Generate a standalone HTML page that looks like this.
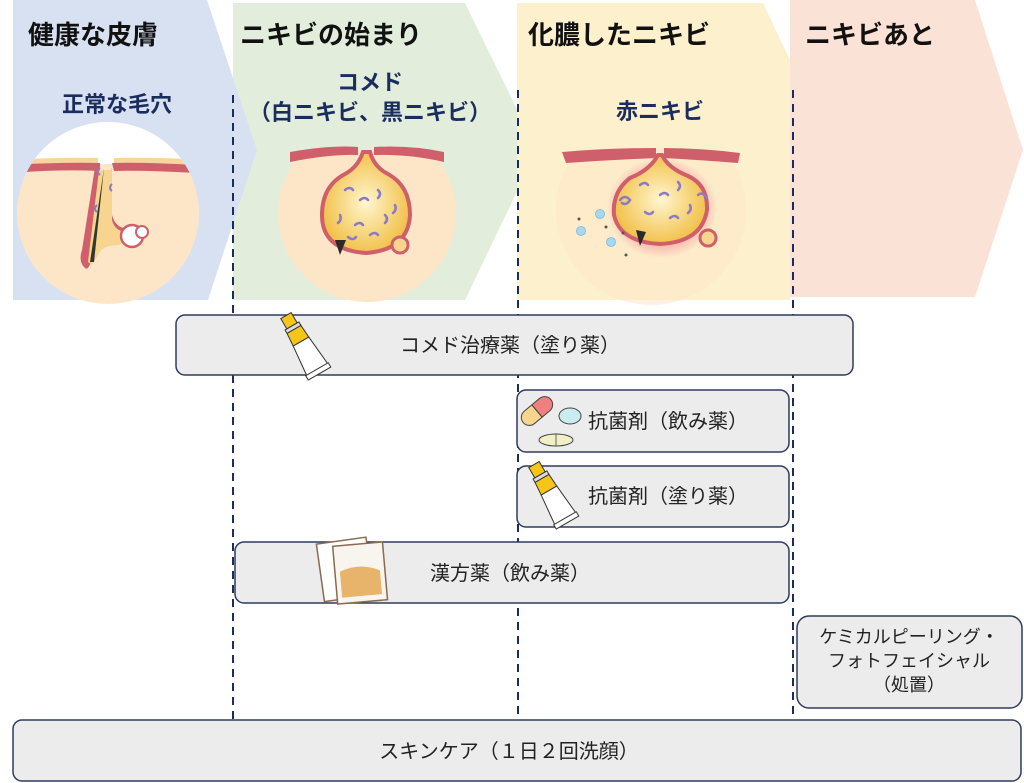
<!DOCTYPE html>
<html><head><meta charset="utf-8"><style>
html,body{margin:0;padding:0;background:#fff;}
svg{display:block;font-family:"Liberation Sans","Noto Sans CJK JP",sans-serif;}
</style></head><body>
<svg width="1024" height="783" viewBox="0 0 1024 783" xmlns="http://www.w3.org/2000/svg">
<defs>
<g id="tube">
  <rect x="-6" y="-34" width="12" height="12" fill="#f5c518" stroke="#333" stroke-width="1"/>
  <rect x="-8" y="-22" width="16" height="4" fill="#ddd" stroke="#333" stroke-width="1"/>
  <path d="M-8,-18 L8,-18 L9,-4 L-9,-4 Z" fill="#f5c518" stroke="#333" stroke-width="1"/>
  <path d="M-9,-4 L9,-4 L12,28 L-12,28 Z" fill="#fff" stroke="#333" stroke-width="1"/>
  <rect x="-13" y="28" width="26" height="5" fill="#fff" stroke="#333" stroke-width="1"/>
</g>
<radialGradient id="sebum" cx="0.5" cy="0.5" r="0.5"><stop offset="0" stop-color="#fff6d0"/><stop offset="1" stop-color="#f2c24c"/></radialGradient>
<radialGradient id="glow" cx="0.5" cy="0.5" r="0.5"><stop offset="0.6" stop-color="#f06a8a" stop-opacity="0.6"/><stop offset="1" stop-color="#f06a8a" stop-opacity="0"/></radialGradient>
<clipPath id="c1"><circle cx="108" cy="213" r="91"/></clipPath>
<clipPath id="below150"><rect x="0" y="150" width="1024" height="200"/></clipPath>
</defs>

<!-- chevrons -->
<polygon points="233,3 465,3 537,150 465,300 233,300" fill="#e2eedb"/>
<polygon points="13,0 207,0 257,150 208,300 13,300" fill="#d8e1f2"/>
<polygon points="517,3 763,3 790,60 790,300 517,300" fill="#fdf1cd"/>
<polygon points="790,0 975,0 1023,150 975,297 790,297" fill="#fbe2d6"/>

<!-- healthy circle -->
<g clip-path="url(#c1)">
<rect x="10" y="110" width="200" height="200" fill="#fde6c8"/>
<rect x="10" y="110" width="200" height="54" fill="#fff"/>
<path d="M10,160 Q60,157 98,158 L98,164 Q60,163 10,165 Z" fill="#f8d59c"/>
<path d="M114,158 Q150,157 210,160 L210,165 Q150,163 114,164 Z" fill="#f8d59c"/>
<path d="M10,165 Q60,162 100,163 L100,171 Q60,169 10,173 Z" fill="#cf5f6a"/>
<path d="M112,163 Q150,162 210,166 L210,174 Q150,170 114,171 Z" fill="#cf5f6a"/>
</g>
<path d="M100,165 L93,250 Q90,272 85,268 Q78,262 82,250 L95,167 Z" fill="#cf5f6a"/>
<path d="M112,167 L112,215 Q116,230 130,228 L130,236 Q112,238 106,220 Z" fill="#cf5f6a"/>
<path d="M99,170 L112,170 L112,220 Q115,232 128,232 L120,245 Q104,245 100,252 L92,265 L88,262 Z" fill="#f7d58e"/>
<path d="M104,168 L90,262 L94,262 Z" fill="#2f3a2e"/>
<circle cx="132" cy="236" r="11" fill="#fff" stroke="#cf5f6a" stroke-width="2.5"/>
<circle cx="142" cy="232" r="6" fill="#fff" stroke="#cf5f6a" stroke-width="2"/>
<g stroke="#8a7ac8" stroke-width="2" fill="none"><path d="M100,168 q-4,4 0,7"/><path d="M112,184 q-4,4 0,7"/><path d="M97,205 q-4,4 0,7"/></g>

<!-- comedo circle -->
<circle cx="367" cy="213" r="89" fill="#fde6c8" clip-path="url(#below150)"/>
<path d="M290,152 Q330,145 358,147 L358,155 Q330,154 290,162 Z" fill="#cf5f6a"/>
<path d="M374,147 Q410,145 444,152 L444,162 Q410,154 374,155 Z" fill="#cf5f6a"/>
<path d="M363,152 Q358,167 345,174 Q322,186 322,215 Q322,250 366,253 Q408,250 410,215 Q410,186 388,174 Q374,167 370,152 Z" fill="url(#sebum)" stroke="#cf5f6a" stroke-width="4"/>
<path d="M335,240 L340,255 L346,240 Z" fill="#2a2a2a"/>
<circle cx="400" cy="245" r="8" fill="#f7d58e" stroke="#cf5f6a" stroke-width="3"/>
<g stroke="#8a7ac8" stroke-width="2.5" fill="none" stroke-linecap="round">
<path d="M345,190 q5,-4 8,0"/><path d="M360,200 q5,-4 8,0"/><path d="M378,190 q4,4 0,8"/>
<path d="M340,215 q2,5 -2,8"/><path d="M355,225 q5,-4 8,0"/><path d="M385,215 q4,4 0,8"/>
<path d="M370,235 q5,-4 8,0"/><path d="M395,205 q2,5 -2,8"/><path d="M348,237 q5,4 8,0"/>
</g>

<!-- red pimple -->
<circle cx="651" cy="210" r="95" fill="#fde6c8" opacity="0.55" clip-path="url(#below150)"/>
<ellipse cx="662" cy="208" rx="55" ry="50" fill="url(#glow)"/>
<path d="M562,152 Q610,148 656,148 L656,158 Q610,160 566,163 Z" fill="#cf5f6a"/>
<path d="M664,148 Q700,148 740,153 L738,163 Q700,160 664,158 Z" fill="#cf5f6a"/>
<path d="M658,155 Q650,170 630,178 Q612,192 614,215 Q620,242 660,244 Q702,242 707,210 Q708,185 688,176 Q668,168 662,155 Z" fill="url(#sebum)" stroke="#cf5f6a" stroke-width="4"/>
<path d="M636,230 L640,246 L646,232 Z" fill="#2a2a2a"/>
<circle cx="708" cy="238" r="8" fill="#f7d58e" stroke="#cf5f6a" stroke-width="3"/>
<g stroke="#8a7ac8" stroke-width="2.5" fill="none" stroke-linecap="round">
<path d="M640,185 q5,-4 8,0"/><path d="M660,195 q5,-4 8,0"/><path d="M678,182 q4,4 0,8"/>
<path d="M645,212 q5,4 8,0"/><path d="M670,218 q5,-4 8,0"/><path d="M690,205 q2,5 -2,8"/>
<path d="M620,200 q5,-6 10,0 q-4,6 -8,3"/><path d="M698,195 q5,-4 8,3"/>
</g>
<g fill="#a8d8f0" stroke="#7ab8dc" stroke-width="0.8">
<circle cx="600" cy="214" r="4.5"/><circle cx="581" cy="231" r="4.5"/><circle cx="611" cy="242" r="4.5"/>
</g>
<g fill="#555"><circle cx="579" cy="219" r="1.5"/><circle cx="606" cy="227" r="1.5"/><circle cx="623" cy="233" r="1.5"/><circle cx="626" cy="255" r="1.5"/></g>

<!-- headers -->
<g font-weight="bold" font-size="26" fill="#111">
<text x="28" y="44">健康な皮膚</text>
<text x="240" y="44">ニキビの始まり</text>
<text x="528" y="44">化膿したニキビ</text>
<text x="805" y="44">ニキビあと</text>
</g>
<g font-weight="bold" font-size="22" fill="#1b2d5e" text-anchor="middle">
<text x="117" y="112">正常な毛穴</text>
<text x="370" y="90">コメド</text>
<text x="370" y="120">（白ニキビ、黒ニキビ）</text>
<text x="660" y="119">赤ニキビ</text>
</g>

<!-- dashed lines -->
<g stroke="#1b2d5e" stroke-width="2" stroke-dasharray="8,6">
<line x1="233" y1="95" x2="233" y2="719"/>
<line x1="518" y1="90" x2="518" y2="719"/>
<line x1="793" y1="90" x2="793" y2="719"/>
</g>

<!-- bars -->
<g fill="#ececec" stroke="#2e3b5c" stroke-width="1.5">
<rect x="176" y="315" width="677" height="60" rx="9"/>
<rect x="517" y="390" width="272" height="62" rx="9"/>
<rect x="517" y="466" width="272" height="61" rx="9"/>
<rect x="235" y="542" width="554" height="61" rx="9"/>
<rect x="797" y="616" width="225" height="92" rx="12"/>
<rect x="13" y="720" width="1008" height="61" rx="9"/>
</g>
<g font-size="20" fill="#222">
<text x="510" y="352" text-anchor="middle">コメド治療薬（塗り薬）</text>
<text x="588" y="428">抗菌剤（飲み薬）</text>
<text x="588" y="503">抗菌剤（塗り薬）</text>
<text x="510" y="580" text-anchor="middle">漢方薬（飲み薬）</text>
<text x="509" y="758" text-anchor="middle">スキンケア（１日２回洗顔）</text>
</g>
<g font-size="18" fill="#222" text-anchor="middle">
<text x="909" y="643">ケミカルピーリング・</text>
<text x="909" y="667">フォトフェイシャル</text>
<text x="909" y="691">（処置）</text>
</g>

<!-- icons -->
<use href="#tube" transform="translate(303,345) rotate(-30)"/>
<use href="#tube" transform="translate(551,494) rotate(-30)"/>
<g transform="translate(537,411) rotate(-40)">
<path d="M0,-8 L0,8 L-10,8 A8,8 0 0 1 -10,-8 Z" fill="#f7d58e" stroke="#444" stroke-width="1"/>
<path d="M0,-8 L10,-8 A8,8 0 0 1 10,8 L0,8 Z" fill="#f08080" stroke="#444" stroke-width="1"/>
</g>
<ellipse cx="570" cy="416" rx="11" ry="8" fill="#c8ecef" stroke="#444" stroke-width="1"/>
<ellipse cx="556" cy="440" rx="17" ry="6" fill="#f1efc6" stroke="#444" stroke-width="1"/>
<line x1="556" y1="434" x2="556" y2="446" stroke="#444" stroke-width="0.8"/>
<g transform="translate(348,568) rotate(-8)">
<rect x="-28" y="-28" width="50" height="58" fill="#fff" stroke="#8a6a50" stroke-width="1.5"/>
</g>
<g transform="translate(360,572) rotate(-5)">
<rect x="-25" y="-28" width="50" height="58" fill="#f8f4ee" stroke="#8a6a50" stroke-width="1.5"/>
<path d="M-20,-2 Q0,-10 20,0 L20,24 L-20,24 Z" fill="#e8b46c"/>
</g>
</svg>
</body></html>
